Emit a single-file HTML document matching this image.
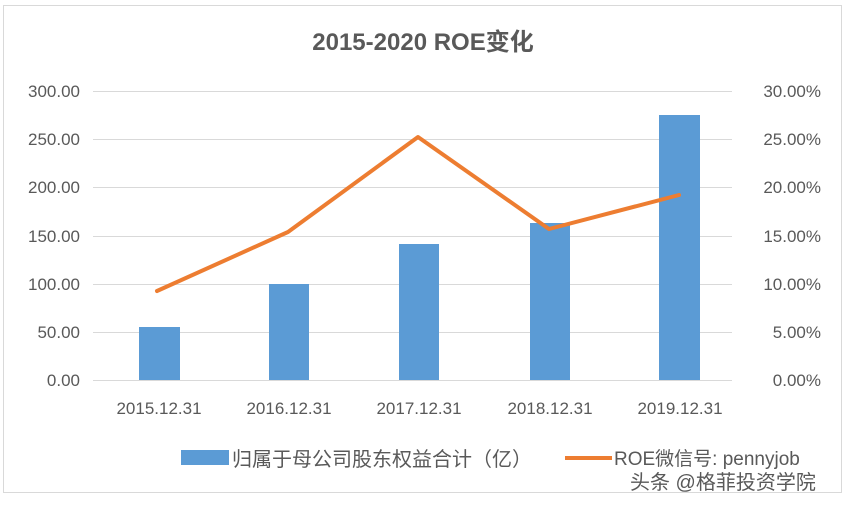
<!DOCTYPE html>
<html><head><meta charset="utf-8"><style>
html,body{margin:0;padding:0;background:#fff;}
svg{display:block}
text{font-family:"Liberation Sans","Noto Sans CJK SC",sans-serif;fill:#595959}
</style></head><body>
<svg width="846" height="508" viewBox="0 0 846 508">
<rect x="0" y="0" width="846" height="508" fill="#fff"/>
<rect x="3.5" y="5.5" width="838" height="487" fill="#fff" stroke="#d9d9d9"/>
<text x="423" y="50" text-anchor="middle" font-size="24" font-weight="bold" fill="#595959">2015-2020 ROE变化</text>
<g stroke="#d9d9d9" stroke-width="1">
<line x1="93" x2="732" y1="91.5" y2="91.5"/>
<line x1="93" x2="732" y1="139.5" y2="139.5"/>
<line x1="93" x2="732" y1="187.5" y2="187.5"/>
<line x1="93" x2="732" y1="236.5" y2="236.5"/>
<line x1="93" x2="732" y1="284.5" y2="284.5"/>
<line x1="93" x2="732" y1="332.5" y2="332.5"/>
<line x1="93" x2="732" y1="380.5" y2="380.5"/>
</g>
<g font-size="17" text-anchor="end">
<text x="80" y="97">300.00</text>
<text x="80" y="145">250.00</text>
<text x="80" y="193">200.00</text>
<text x="80" y="242">150.00</text>
<text x="80" y="290">100.00</text>
<text x="80" y="338">50.00</text>
<text x="80" y="386">0.00</text>
</g>
<g font-size="17" text-anchor="end">
<text x="821" y="97">30.00%</text>
<text x="821" y="145">25.00%</text>
<text x="821" y="193">20.00%</text>
<text x="821" y="242">15.00%</text>
<text x="821" y="290">10.00%</text>
<text x="821" y="338">5.00%</text>
<text x="821" y="386">0.00%</text>
</g>
<g fill="#5b9bd5">
<rect x="139" y="327" width="41" height="53"/>
<rect x="269" y="284" width="40" height="96"/>
<rect x="399" y="244" width="40" height="136"/>
<rect x="530" y="223" width="40" height="157"/>
<rect x="659" y="115" width="41" height="265"/>
</g>
<polyline points="157,291 288,232 418,137 549,229 679,195" fill="none" stroke="#ed7d31" stroke-width="4" stroke-linejoin="round" stroke-linecap="round"/>
<g font-size="17" text-anchor="middle">
<text x="159" y="414">2015.12.31</text>
<text x="289" y="414">2016.12.31</text>
<text x="419" y="414">2017.12.31</text>
<text x="550" y="414">2018.12.31</text>
<text x="680" y="414">2019.12.31</text>
</g>
<rect x="181" y="450" width="48" height="15" fill="#5b9bd5"/>
<text x="232" y="466" font-size="20">归属于母公司股东权益合计（亿）</text>
<line x1="565" x2="612" y1="458" y2="458" stroke="#ed7d31" stroke-width="4"/>
<text x="614" y="465" font-size="19">ROE微信号: pennyjob</text>
<text x="630" y="489" font-size="20" fill="#222">头条 @格菲投资学院</text>
</svg>
</body></html>
